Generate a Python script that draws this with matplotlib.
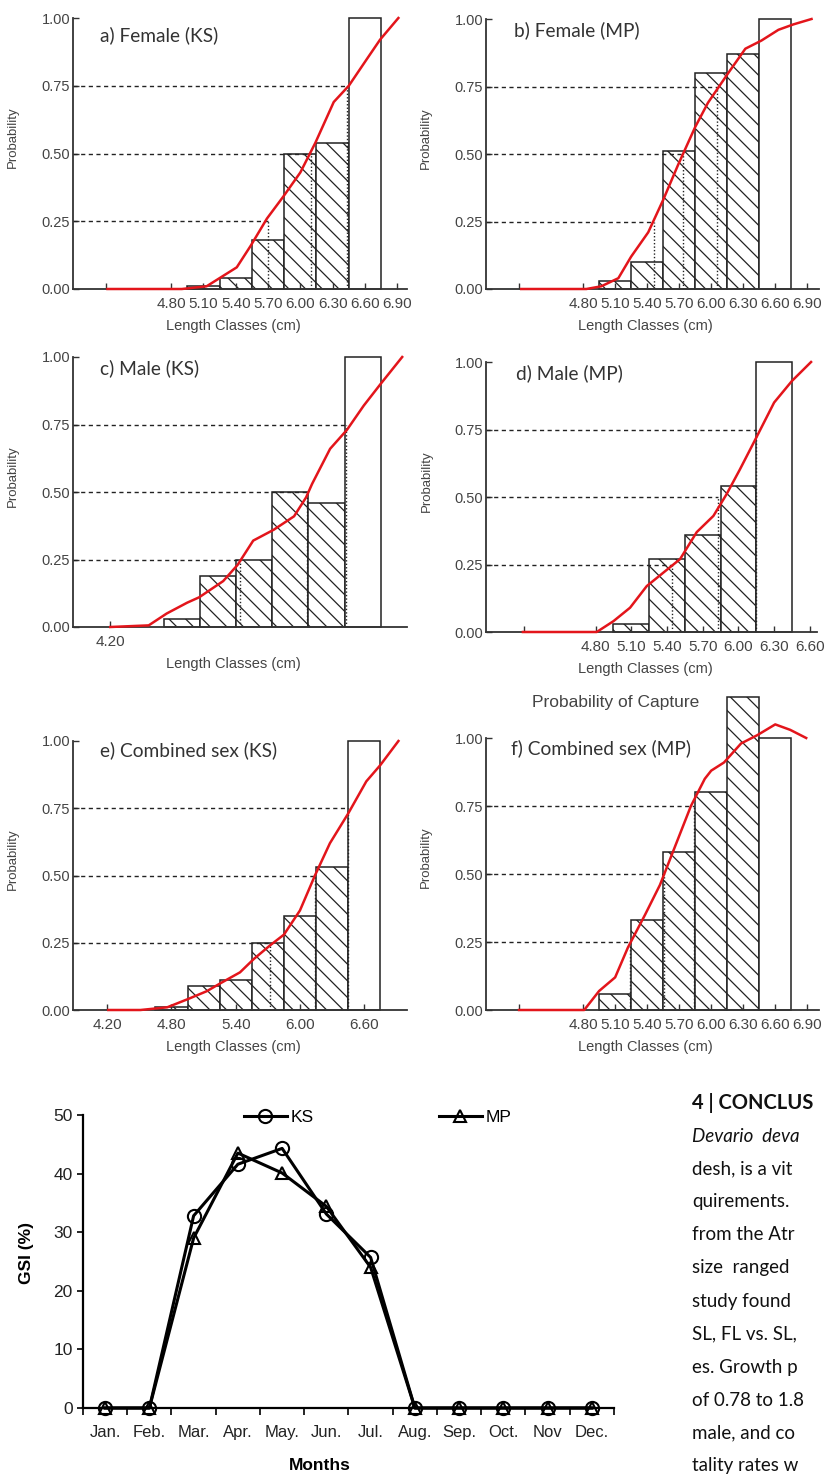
import matplotlib
matplotlib.use("Agg")
import matplotlib.pyplot as plt
from matplotlib.lines import Line2D

plt.rcParams['font.family'] = ['Liberation Sans', 'DejaVu Sans']
plt.rcParams['hatch.linewidth'] = 0.9

W, H = 828, 1474

# ---- probability of capture data (length class mid points, cm) ----
a_bar_x = [5.10, 5.40, 5.70, 6.00, 6.30, 6.60]
a_bar_y = [0.01, 0.04, 0.18, 0.50, 0.54, 1.00]
a_curve_x = [4.21, 4.90, 5.13, 5.25, 5.41, 5.54, 5.69, 5.84, 6.00, 6.14, 6.31, 6.45, 6.62, 6.74, 6.91]
a_curve_y = [0.00, 0.00, 0.01, 0.04, 0.08, 0.16, 0.26, 0.34, 0.43, 0.54, 0.69, 0.75, 0.85, 0.92, 1.00]
a_lc = [5.70, 6.10, 6.43]

b_bar_x = [5.10, 5.40, 5.70, 6.00, 6.30, 6.60]
b_bar_y = [0.03, 0.10, 0.51, 0.80, 0.87, 1.00]
b_curve_x = [4.22, 4.83, 4.97, 5.13, 5.25, 5.41, 5.55, 5.69, 5.85, 5.97, 6.16, 6.32, 6.47, 6.63, 6.77, 6.94]
b_curve_y = [0.00, 0.00, 0.01, 0.04, 0.12, 0.21, 0.33, 0.46, 0.60, 0.69, 0.80, 0.89, 0.92, 0.96, 0.98, 1.00]
b_lc = [5.46, 5.74, 6.05]

c_bar_x = [4.80, 5.10, 5.40, 5.70, 6.00, 6.30]
c_bar_y = [0.03, 0.19, 0.25, 0.50, 0.46, 1.00]
c_curve_x = [4.20, 4.52, 4.67, 4.84, 4.94, 5.14, 5.26, 5.39, 5.56, 5.73, 5.83, 5.88, 6.03, 6.17, 6.31, 6.45, 6.63]
c_curve_y = [0.00, 0.006, 0.05, 0.09, 0.11, 0.17, 0.23, 0.32, 0.36, 0.41, 0.48, 0.53, 0.66, 0.73, 0.82, 0.90, 1.00]
c_lc = [5.28, 5.84, 6.16]

d_bar_x = [5.10, 5.40, 5.70, 6.00, 6.30]
d_bar_y = [0.03, 0.27, 0.36, 0.54, 1.00]
d_curve_x = [4.19, 4.81, 4.95, 5.09, 5.23, 5.37, 5.51, 5.65, 5.79, 5.90, 6.01, 6.15, 6.30, 6.45, 6.61]
d_curve_y = [0.00, 0.00, 0.04, 0.09, 0.17, 0.22, 0.27, 0.37, 0.43, 0.51, 0.60, 0.72, 0.85, 0.93, 1.00]
d_lc = [5.44, 5.83, 6.15]

e_bar_x = [4.80, 5.10, 5.40, 5.70, 6.00, 6.30, 6.60]
e_bar_y = [0.01, 0.09, 0.11, 0.25, 0.35, 0.53, 1.00]
e_curve_x = [4.21, 4.51, 4.76, 4.95, 5.13, 5.26, 5.44, 5.57, 5.72, 5.85, 6.00, 6.14, 6.28, 6.45, 6.62, 6.75, 6.92]
e_curve_y = [0.00, 0.00, 0.01, 0.04, 0.07, 0.10, 0.14, 0.19, 0.24, 0.28, 0.37, 0.50, 0.62, 0.73, 0.85, 0.91, 1.00]
e_lc = [5.72, 6.14, 6.45]

f_bar_x = [5.10, 5.40, 5.70, 6.00, 6.30, 6.60]
f_bar_y = [0.06, 0.33, 0.58, 0.80, 1.15, 1.00]
f_curve_x = [4.20, 4.81, 4.95, 5.10, 5.22, 5.38, 5.52, 5.66, 5.81, 5.94, 6.00, 6.12, 6.28, 6.43, 6.60, 6.74, 6.89]
f_curve_y = [0.00, 0.00, 0.07, 0.12, 0.23, 0.35, 0.46, 0.60, 0.75, 0.85, 0.88, 0.91, 0.98, 1.01, 1.05, 1.03, 1.00]
f_lc = [5.24, 5.56, 5.84]

levels = [0.25, 0.50, 0.75]
full_ticks = [4.2, 4.8, 5.1, 5.4, 5.7, 6.0, 6.3, 6.6, 6.9]
full_labels = ["", "4.80", "5.10", "5.40", "5.70", "6.00", "6.30", "6.60", "6.90"]

# ---- GSI data ----
months = ["Jan.", "Feb.", "Mar.", "Apr.", "May.", "Jun.", "Jul.", "Aug.", "Sep.", "Oct.", "Nov", "Dec."]
gsi_ks = [0, 0, 32.8, 41.6, 44.3, 33.1, 25.7, 0, 0, 0, 0, 0]
gsi_mp = [0, 0, 29.0, 43.5, 40.1, 34.4, 24.0, 0, 0, 0, 0, 0]

# side text, as far as the page shows it
text_lines = ["4 | CONCLUS", "Devario  deva", "desh, is a vit", "quirements.",
              "from the Atr", "size  ranged", "study found", "SL, FL vs. SL,",
              "es. Growth p", "of 0.78 to 1.8", "male, and co", "tality rates w"]

fig = plt.figure(figsize=(W / 100, H / 100), dpi=100)


def px_axes(left, top, right, bottom):
    return fig.add_axes([left / W, 1 - bottom / H, (right - left) / W, (bottom - top) / H])


def fig_text(x, y, s, **kw):
    fig.text(x / W, 1 - y / H, s, **kw)


def prob_panel(box, xlim, bx, by, cx, cy, lc, ticks, labels, title, title_xy):
    ax = px_axes(*box)
    ax.set_xlim(xlim)
    ax.set_ylim(0, 1)
    for i in range(len(bx)):
        last = i == len(bx) - 1
        ax.bar(bx[i], by[i], width=0.3, facecolor='white', edgecolor='#222222',
               linewidth=1.1, hatch=None if last else '\\\\', clip_on=False, zorder=1)
    for lev, L in zip(levels, lc):
        ax.plot([xlim[0], L], [lev, lev], color='#222222', lw=1.0, ls=(0, (3, 2.5)), zorder=2)
        ax.plot([L, L], [0, lev], color='#222222', lw=1.0, ls=(0, (1, 1.5)), zorder=2)
    ax.plot(cx, cy, color='#e3151b', lw=1.8, zorder=3, clip_on=False)
    for s in ['top', 'right']:
        ax.spines[s].set_visible(False)
    for s in ['left', 'bottom']:
        ax.spines[s].set_color('#333333')
        ax.spines[s].set_linewidth(1.3)
    ax.set_yticks([0, 0.25, 0.5, 0.75, 1.0])
    ax.set_yticklabels(["0.00", "0.25", "0.50", "0.75", "1.00"])
    ax.set_xticks(ticks)
    ax.set_xticklabels(labels)
    ax.tick_params(axis='both', direction='in', length=4, width=1, color='#333333',
                   labelcolor='#444444', labelsize=10.5)
    ax.tick_params(axis='x', pad=6, labelsize=11)
    ax.tick_params(axis='y', pad=2)
    ax.text(-0.18, 0.56, "Probability", rotation=90, ha='center', va='center',
            fontsize=9.5, color='#444444', transform=ax.transAxes)
    ax.text(0.48, -0.137, "Length Classes (cm)", ha='center', va='center',
            fontsize=10.5, color='#444444', transform=ax.transAxes)
    fig_text(title_xy[0], title_xy[1], title, family=['Lato', 'DejaVu Sans'],
             fontsize=13.8, color='#333333', va='center')
    return ax


prob_panel((73, 18, 407, 289), (3.89, 6.99), a_bar_x, a_bar_y, a_curve_x, a_curve_y, a_lc,
           full_ticks, full_labels, "a) Female (KS)", (100, 35))
prob_panel((486, 19, 819, 289), (3.89, 7.01), b_bar_x, b_bar_y, b_curve_x, b_curve_y, b_lc,
           full_ticks, full_labels, "b) Female (MP)", (514, 30))
prob_panel((73, 357, 407, 627), (3.89, 6.67), c_bar_x, c_bar_y, c_curve_x, c_curve_y, c_lc,
           [4.2], ["4.20"], "c) Male (KS)", (100, 368))
prob_panel((486, 362, 817, 632), (3.88, 6.66), d_bar_x, d_bar_y, d_curve_x, d_curve_y, d_lc,
           full_ticks[:-1], full_labels[:-1], "d) Male (MP)", (516, 373))
prob_panel((73, 741, 407, 1010), (3.88, 7.0), e_bar_x, e_bar_y, e_curve_x, e_curve_y, e_lc,
           [4.2, 4.8, 5.4, 6.0, 6.6], ["4.20", "4.80", "5.40", "6.00", "6.60"],
           "e) Combined sex (KS)", (100, 750))
prob_panel((486, 738, 819, 1010), (3.89, 7.01), f_bar_x, f_bar_y, f_curve_x, f_curve_y, f_lc,
           full_ticks, full_labels, "f) Combined sex (MP)", (511, 748))
fig_text(616, 703, "Probability of Capture", ha='center', va='center', fontsize=12.5, color='#444444')

# ---- GSI chart ----
ax = px_axes(83, 1115, 614, 1408)
xs = list(range(len(months)))
ax.plot(xs, gsi_ks, color='black', lw=2.2, marker='o', ms=9.5, mfc='none', mec='black', mew=1.5,
        clip_on=False, zorder=3)
ax.plot(xs, gsi_mp, color='black', lw=2.2, marker='^', ms=8, mfc='none', mec='black', mew=1.5,
        clip_on=False, zorder=3)
ax.set_xlim(-0.5, 11.5)
ax.set_ylim(0, 50)
ax.set_yticks(range(0, 51, 10))
ax.set_xticks(xs)
ax.set_xticklabels(months)
ax.set_xticks([i - 0.5 for i in range(13)], minor=True)
ax.tick_params(axis='x', which='major', length=0, pad=12, labelsize=12, labelcolor='#222222')
ax.tick_params(axis='x', which='minor', direction='out', length=5, width=1.2)
ax.tick_params(axis='y', direction='out', length=4, width=1.2, labelsize=12.5, labelcolor='#222222')
for s in ['top', 'right']:
    ax.spines[s].set_visible(False)
for s in ['left', 'bottom']:
    ax.spines[s].set_linewidth(1.6)
fig_text(27, 1253, "GSI (%)", rotation=90, ha='center', va='center', fontsize=12.5, fontweight='bold')
fig_text(320, 1465, "Months", ha='center', va='center', fontsize=12.5, fontweight='bold')
handles = [Line2D([], [], color='black', lw=2.2, marker='o', ms=9.5, mfc='none', mew=1.5),
           Line2D([], [], color='black', lw=2.2, marker='^', ms=8, mfc='none', mew=1.5)]
ax.legend(handles, ["KS", "MP"], ncol=2, loc='center left', bbox_to_anchor=(235 / W, 1 - 1117 / H),
          bbox_transform=fig.transFigure, frameon=False, fontsize=12.5, borderpad=0,
          handlelength=2.5, handletextpad=0.2, columnspacing=7.2)

# ---- side text ----
for i, line in enumerate(text_lines):
    kw = dict(family=['Lato', 'DejaVu Sans'], fontsize=13.5, color='#111111', va='center')
    if i == 0:
        kw['fontweight'] = 'bold'
        kw['fontsize'] = 14.5
    if i == 1:
        kw['style'] = 'italic'
    fig_text(692, 1103 + 33 * i, line, **kw)

fig.savefig("out.png", dpi=100)
